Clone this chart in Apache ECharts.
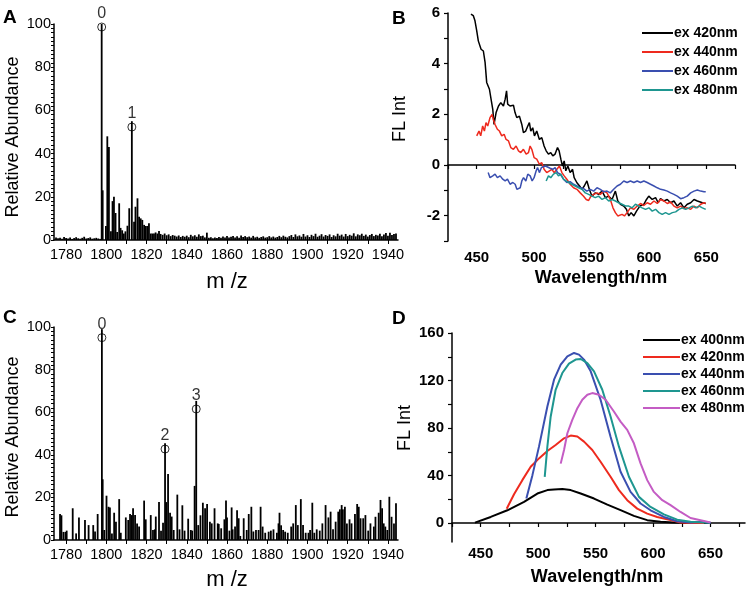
<!DOCTYPE html>
<html><head><meta charset="utf-8">
<script src="https://cdn.jsdelivr.net/npm/echarts@6/dist/echarts.min.js"></script>
<style>html,body{margin:0;padding:0;background:#fff}#c{width:750px;height:602px}</style>
</head><body><div id="c"></div>
<script>
// ---------- Panel A: mass spectrum ----------
const aSpec = [
[1775,1.2],[1776,0.8],[1777,1.0],[1778,0.6],[1779,1.4],[1780,0.9],[1781,0.7],[1782,1.1],[1783,0.5],[1784,0.9],
[1785,1.3],[1786,0.8],[1787,0.6],[1788,1.0],[1789,1.5],[1790,0.7],[1791,0.9],[1792,1.2],[1793,0.6],[1794,0.8],
[1795,1.0],[1796,0.7],[1797,0.5],
[1797.7,100],[1798.2,23],[1799.8,6.5],[1800.5,48],[1801.3,43],[1802.3,4],[1803.1,18],[1803.8,20],[1804.6,12.5],
[1805.4,3.7],[1806.4,17],[1807.1,5.6],[1807.9,4.5],[1808.7,3],[1809.5,4],[1810.5,6.6],[1811.4,14.7],[1812.7,55],
[1813.8,8.5],[1814.5,15.4],[1815.5,19.3],[1816.3,10.8],[1817.1,10],[1817.9,9.3],[1818.8,7],[1819.6,6.5],[1820.4,6.5],
[1821.2,7.7],[1822.1,3],[1822.9,3],[1823.7,3],[1824.5,3.5],[1825.4,3],[1826.2,4.2],[1827.0,2.8],
[1828,2.4],[1829,3.0],[1830,2.2],[1831,2.6],[1832,1.8],[1833,2.3],[1834,2.0],[1835,1.6],[1836,2.1],[1837,1.4],
[1838,1.9],[1839,1.5],[1840,2.0],[1841,1.3],[1842,2.4],[1843,1.7],[1844,2.2],[1845,1.5],[1846,2.6],[1847,1.8],
[1848,2.0],[1849,1.2],[1850,3.4],[1851,1.0],[1852,1.3],[1853,0.8],[1854,1.1],[1855,0.9],[1856,1.4],[1857,1.0],
[1858,1.6],[1859,1.2],[1860,1.8],[1861,1.1],[1862,1.5],[1863,1.9],[1864,1.2],[1865,1.7],[1866,1.0],[1867,2.1],
[1868,1.4],[1869,1.8],[1870,1.3],[1871,1.6],[1872,1.1],[1873,1.9],[1874,1.2],[1875,1.5],[1876,1.0],[1877,1.4],
[1878,1.7],[1879,1.1],[1880,1.3],[1881,1.8],[1882,1.2],[1883,1.6],[1884,1.1],[1885,1.4],[1886,1.9],[1887,1.3],
[1888,2.0],[1889,1.5],[1890,1.2],[1891,1.8],[1892,2.3],[1893,1.4],[1894,2.6],[1895,1.7],[1896,2.1],[1897,1.5],
[1898,2.8],[1899,1.6],[1900,2.2],[1901,1.4],[1902,2.4],[1903,1.8],[1904,2.9],[1905,1.5],[1906,2.0],[1907,2.7],
[1908,1.6],[1909,2.3],[1910,1.9],[1911,2.6],[1912,1.4],[1913,2.2],[1914,1.7],[1915,2.9],[1916,2.0],[1917,2.5],
[1918,1.6],[1919,2.8],[1920,1.8],[1921,2.4],[1922,2.0],[1923,3.1],[1924,1.7],[1925,2.6],[1926,2.2],[1927,2.9],
[1928,1.9],[1929,2.5],[1930,1.6],[1931,2.3],[1932,2.8],[1933,1.8],[1934,2.4],[1935,2.1],[1936,2.9],[1937,1.7],
[1938,2.6],[1939,3.2],[1940,2.0],[1941,3.4],[1942,2.3],[1943,2.8],[1944,3.0]
];
const aPeaks = [[1797.7,98.6],[1812.7,52.3]];
const aPeakLabels = ['0','1'];

// ---------- Panel C: mass spectrum ----------
const cSpec = [
[1777.0,12.2],[1777.7,11.6],[1778.7,3.8],[1779.7,3.8],[1780.3,4.4],[1783.3,14.9],[1785.0,3.1],[1786.4,10.6],[1789.4,9.4],
[1791.2,7],[1793.5,7],[1794.4,4],[1795.7,12.2],[1797.8,99],[1798.2,28.5],[1799.0,4.7],[1800.1,20.8],[1801.1,15.6],
[1801.8,15.3],[1802.8,3],[1803.9,12.8],[1804.8,8.6],[1806.4,19.2],[1807.2,3.4],[1809.7,10.6],[1810.9,9.4],[1811.8,12.2],
[1812.7,11.7],[1813.3,14.9],[1814.3,11.7],[1815.3,7.8],[1816.3,6.3],[1818.8,18.5],[1819.6,9.7],[1822.1,11.7],[1823.2,4.7],
[1824.1,5],[1824.6,11],[1826.2,17.8],[1827.2,4.4],[1828.2,8.1],[1829.2,45.4],[1829.8,17.8],[1830.7,31],[1831.7,12.8],
[1832.5,11],[1833.5,4.7],[1835.3,21.3],[1836.4,5],[1837.8,16.3],[1838.9,4.4],[1840.7,10],[1842.0,4.7],[1842.7,4.4],
[1843.9,25.4],[1844.7,65.3],[1845.7,7],[1846.8,11.6],[1848.0,17.5],[1849.1,14.9],[1850.1,16.9],[1851.5,8.6],[1852.4,7.8],
[1853.8,14.9],[1855.4,7.8],[1855.9,7.5],[1857.1,5.5],[1858.7,9.7],[1859.5,18.5],[1860.0,10.6],[1861.2,4.4],[1862.3,15.3],
[1862.8,5],[1864.0,6.3],[1865.0,14],[1865.8,10.2],[1866.6,1.9],[1868.3,10.2],[1869.8,4.7],[1870.8,12.2],[1872.1,15.6],
[1873.1,4],[1874.4,4.7],[1875.7,4.7],[1876.7,15.6],[1877.7,6.3],[1879.0,3.4],[1880.7,3.9],[1881.8,4.4],[1883.1,5],
[1884.8,3.4],[1885.6,7.8],[1886.1,12.8],[1886.9,6.9],[1887.9,4.7],[1888.9,3.9],[1890.2,3.4],[1891.9,6.3],[1892.9,7.8],
[1894.2,16.4],[1895.2,7],[1896.7,19.2],[1897.8,7],[1899.1,3.4],[1900.5,3.4],[1901.3,4.7],[1902.4,17.5],[1903.4,3.4],
[1904.6,5],[1906.1,4.4],[1907.4,7.8],[1909.0,16.4],[1910.4,10.6],[1911.5,13.3],[1912.7,5],[1914.0,8.6],[1915.3,13.3],
[1916.1,14.4],[1917.0,16.4],[1917.6,14.4],[1918.6,15.6],[1919.6,7.8],[1920.9,9.7],[1921.9,7.8],[1923.6,12.2],[1924.7,16.9],
[1925.5,15.6],[1926.4,10.2],[1927.7,10.2],[1928.8,11.7],[1930.2,4.4],[1931.3,7.8],[1933.0,6.3],[1933.8,10.9],[1935.4,12.8],
[1936.3,18.8],[1937.1,14.9],[1937.9,7.8],[1938.7,6.3],[1939.7,4.7],[1940.7,20.3],[1941.8,10.9],[1943.0,7.8],[1944.0,17.2]
];
const cPeaks = [[1797.8,95],[1829.2,42.7],[1844.7,61.5]];
const cPeakLabels = ['0','2','3'];

const msXLabels = [1780,1800,1820,1840,1860,1880,1900,1920,1940];
const msYLabels = [0,20,40,60,80,100];

// ---------- Panel B: FL spectra ----------
const bNames = ['ex 420nm','ex 440nm','ex 460nm','ex 480nm'];
const b420 = [[445,5.96],[447,5.9],[448.5,5.69],[450,5.3],[451.4,4.9],[453.8,4.57],[455.8,4.5],[457.3,4.05],[458.7,3.26],
[461.1,2.99],[462.5,2.6],[464,2.2],[465.1,1.6],[466.9,2.07],[469,2.33],[471,2.46],[473.3,2.33],[474.8,2.6],[476,2.93],
[477,2.4],[479,2.33],[482,2.36],[483.4,2.07],[484.9,1.87],[487.2,1.93],[489.3,1.6],[490.7,1.28],[492.7,1.34],[494.5,1.54],
[495.9,1.67],[497.1,1.34],[498.8,1.47],[500.3,1.15],[502.3,1.34],[504.6,1.01],[506.7,1.08],[508.7,0.75],[510.5,0.56],
[512.5,0.43],[514.5,0.49],[516.3,0.36],[518.3,0.43],[520.4,0.69],[521.8,0.56],[523.3,0.23],[524.7,-0.04],[526.2,0.16],
[527.6,-0.23],[529.4,-0.04],[531.4,-0.3],[533.5,-0.17],[534.9,-0.5],[537.3,-0.7],[539.6,-0.83],[541.7,-0.96],[543.7,-0.83],
[546,-0.63],[548.1,-0.96],[550.4,-1.23],[553.3,-1.1],[556.2,-1.16],[559.2,-1.03],[562.1,-1.29],[565,-1.23],[567.9,-1.36],
[570.8,-1.03],[572.9,-1.42],[575.2,-1.55],[578.1,-1.62],[580.4,-1.75],[582.5,-2.01],[584.5,-1.88],[586.9,-2.01],[589.2,-1.82],
[592.1,-1.62],[595.6,-1.55],[597.9,-1.36],[599.9,-1.23],[602.9,-1.36],[605.8,-1.29],[608.1,-1.49],[610.1,-1.33],[613,-1.42],
[616,-1.36],[618.9,-1.49],[621.8,-1.42],[624.7,-1.62],[627.6,-1.49],[630.5,-1.69],[633.4,-1.55],[636.4,-1.49],[639.3,-1.36],
[642.2,-1.42],[646.6,-1.49],[649.5,-1.52]];
const b440 = [[450,1.15],[452,1.34],[453.5,1.15],[455.2,1.54],[456.7,1.34],[458.1,1.67],[459.6,1.54],[461.6,1.87],[463.4,2.0],
[464.5,1.8],[466,1.6],[468,1.41],[469.8,1.34],[471.8,1.15],[473.9,1.21],[475.6,1.01],[477.7,0.95],[479.7,0.69],[482,0.62],
[484.3,0.75],[486.4,0.56],[488.4,0.49],[490.7,0.62],[493.1,0.43],[495.1,0.49],[496.5,0.75],[498,0.62],[500,0.29],[502.3,0.23],
[504.6,0.03],[506.7,0.09],[508.7,-0.17],[511,-0.3],[513.4,-0.23],[515.4,-0.17],[517.5,-0.3],[519.8,-0.17],[522.1,-0.04],
[524.2,-0.3],[526.2,-0.43],[528.5,-0.56],[531.4,-0.76],[534.4,-0.9],[537.3,-0.96],[540.2,-1.1],[543.1,-1.23],[545.4,-1.36],
[547.5,-1.4],[549.5,-1.23],[551.9,-1.16],[554.8,-1.1],[557.7,-1.16],[560.6,-1.03],[563.5,-1.1],[566.4,-1.36],[568.7,-1.69],
[570.8,-1.88],[572.9,-2.01],[574.6,-2.08],[576.6,-1.95],[578.7,-2.01],[581,-1.88],[583.9,-1.69],[586.9,-1.75],[589.8,-1.62],
[592.7,-1.52],[595.6,-1.6],[598.5,-1.49],[601.4,-1.55],[604.4,-1.42],[607.3,-1.52],[610.2,-1.36],[613.1,-1.42],[616,-1.52],
[618.9,-1.46],[621.8,-1.62],[624.7,-1.69],[627.6,-1.62],[630.5,-1.72],[633.4,-1.69],[636.4,-1.75],[639.3,-1.62],[642.2,-1.69],
[645.1,-1.55],[648,-1.49],[649.5,-1.52]];
const b460 = [[460,-0.3],[461.6,-0.5],[464,-0.43],[466,-0.36],[468,-0.5],[470.4,-0.43],[472.7,-0.56],[474.8,-0.63],[476.8,-0.56],
[479.1,-0.76],[481.5,-0.69],[483.5,-0.76],[485,-0.96],[486.4,-1.03],[487.9,-0.9],[489.3,-0.63],[490.8,-0.5],[492.8,-0.63],
[494.5,-0.36],[496.6,-0.43],[498.3,-0.63],[500,-0.5],[501.8,-0.23],[503,-0.1],[504.6,-0.3],[506.4,-0.1],[508.1,-0.17],
[509.9,-0.04],[511.6,-0.1],[514,-0.13],[516.3,-0.17],[518.3,-0.1],[520.4,-0.3],[522.7,-0.36],[525.6,-0.56],[528.5,-0.69],
[531.4,-0.66],[534.4,-0.76],[537.3,-0.83],[540.2,-0.9],[543.1,-0.93],[546,-1.03],[548.9,-0.96],[551.9,-1.03],[554.8,-0.9],
[557.7,-0.96],[560.6,-1.06],[563.5,-1.03],[566.4,-1.1],[569.3,-0.96],[572.3,-0.83],[575.2,-0.76],[578.1,-0.63],[581,-0.69],
[583.9,-0.63],[586.9,-0.69],[589.8,-0.63],[592.7,-0.69],[595.6,-0.63],[598.5,-0.69],[601.4,-0.76],[604.4,-0.83],[607.3,-0.9],
[610.2,-0.96],[613.1,-0.99],[616,-1.03],[618.9,-1.1],[621.8,-1.16],[624.7,-1.23],[627.6,-1.33],[630.5,-1.29],[633.4,-1.23],
[636.4,-1.1],[639.3,-1.03],[642.2,-0.99],[645.1,-1.03],[648,-1.06],[649.5,-1.06]];
const b480 = [[510.5,-0.63],[512.5,-0.43],[514.5,-0.5],[516.9,-0.36],[519.2,-0.3],[521.2,-0.43],[523.3,-0.36],[525.6,-0.56],
[527.9,-0.63],[530,-0.69],[532.9,-0.76],[535.8,-0.83],[538.7,-0.9],[541.7,-0.96],[544.6,-1.1],[547.5,-1.16],[550.4,-1.23],
[553.3,-1.29],[556.2,-1.23],[559.2,-1.36],[562.1,-1.29],[565,-1.42],[567.9,-1.36],[570.8,-1.42],[573.7,-1.49],[576.6,-1.55],
[579.6,-1.62],[582.5,-1.62],[585.4,-1.69],[588.3,-1.55],[591.2,-1.62],[594.1,-1.69],[597.1,-1.75],[600,-1.69],[602.9,-1.82],
[605.8,-1.75],[608.7,-1.88],[611.6,-1.95],[614.5,-1.88],[617.5,-1.95],[620.4,-1.88],[623.3,-1.85],[626.2,-1.75],[629.1,-1.69],
[632,-1.75],[635,-1.69],[637.9,-1.62],[640.8,-1.69],[643.7,-1.62],[646.6,-1.69],[649.5,-1.75]];
const bXLabels = [450,500,550,600,650];
const bYLabels = [-2,0,2,4,6];

// ---------- Panel D: FL spectra ----------
const dNames = ['ex 400nm','ex 420nm','ex 440nm','ex 460nm','ex 480nm'];
const d400 = [[445,0.3],[458.7,5.1],[473.2,10.7],[487.7,17.8],[499.3,24.8],[508,27.7],[513.8,28.3],[521,28.6],[528.3,27.7],
[537,24.8],[548.6,20.6],[560.2,15.5],[571.7,10.8],[583.3,6.0],[594.9,2.4],[606.5,1.0],[618.1,0.4],[629.7,0.2],[641.3,0.2],[650,0]];
const d420 = [[472.6,12],[479,24.2],[486.2,36.1],[493.5,47.4],[500.7,54.4],[508,60.6],[515.2,65.7],[522.5,71.3],[528.3,73.6],
[534.1,72.8],[539.9,68.5],[547.1,61.5],[554.3,51.6],[563,38.9],[570.3,27.7],[577.5,19.2],[586.2,12.1],[594.9,7.9],[603.6,5.1],
[615.2,2.4],[623.9,0.4],[632.6,0],[644.2,0]];
const d440 = [[489.7,20.6],[495,40.3],[500.7,64.3],[508,98.1],[513.8,120.7],[519.6,133.4],[525.4,140.4],[531.2,143.2],[535.5,141.8],
[539.9,137.6],[545.7,127.7],[554.3,103.8],[563,72.7],[571.7,43.1],[580.4,26.2],[589.1,16.4],[597.8,10.7],[609.4,5.1],[621,1.5],
[632.6,0.4],[644.2,1.0],[650,0]];
const d460 = [[505.7,38.9],[508,64.3],[510.9,89.7],[515.2,112.2],[521,126.3],[526.8,134.2],[532.6,137.6],[537,138.1],[542.8,134.7],
[548.6,127.7],[555.8,112.2],[563,89.7],[570.3,64.3],[579,38.9],[587.7,22],[597.8,13.5],[609.4,7.3],[621,2.8],[632.6,1],[644.2,0.4],[650,0.2]];
const d480 = [[519.6,50],[522.5,61.5],[525.4,75.6],[529.7,86.8],[534.1,96.7],[538.4,103.8],[542.8,108],[547.1,109.4],[552.9,108],
[558.7,103.8],[565.9,93.9],[571.7,85.4],[577.5,78.4],[583.3,67.1],[589.1,50.2],[594.9,36.1],[600.7,26.2],[608,19.2],[615.2,15],
[623.9,9.3],[632.6,4.2],[641.3,2.3],[650,0.4]];
const dXLabels = [450,500,550,600,650];
const dYLabels = [0,40,80,120,160];

// ---------- styling ----------
const ARIAL = "'Liberation Sans',Arial,sans-serif";
const bColors = ['#000000','#ee2a1e','#3a4fb0','#1e9690'];
const dColors = ['#000000','#ee2a1e','#3a4fb0','#1e9690','#c45cc4'];

function range(a,b,s){const r=[];for(let v=a;v<=b+1e-9;v+=s)r.push(+v.toFixed(4));return r;}
const plain = v => String(v);

function msX(grid){return {gridIndex:grid,type:'value',min:1774,max:1945,
  axisLine:{lineStyle:{color:'#000',width:1.5}},
  axisTick:{customValues:range(1780,1940,10),length:4,lineStyle:{color:'#000',width:1}},
  axisLabel:{customValues:msXLabels,formatter:plain,showMinLabel:true,showMaxLabel:true,hideOverlap:false,
    color:'#000',fontSize:14.5,fontFamily:ARIAL,margin:7},
  splitLine:{show:false}};}
function msY(grid){return {gridIndex:grid,type:'value',min:0,max:100,
  axisLine:{show:true,lineStyle:{color:'#000',width:1.5}},
  axisTick:{show:true,customValues:range(0,100,2),length:3,lineStyle:{color:'#000',width:1}},
  axisLabel:{customValues:msYLabels,formatter:plain,showMinLabel:true,showMaxLabel:true,hideOverlap:false,
    color:'#000',fontSize:14.5,fontFamily:ARIAL,margin:3},
  splitLine:{show:false}};}
function flX(grid,min,max,labels,margin){return {gridIndex:grid,type:'value',min:min,max:max,
  axisLine:{lineStyle:{color:'#000',width:1.5}},
  axisTick:{customValues:range(425,675,25),length:4,lineStyle:{color:'#000',width:1.2}},
  axisLabel:{customValues:labels,formatter:plain,showMinLabel:true,showMaxLabel:true,hideOverlap:false,
    color:'#000',fontSize:15,fontWeight:'bold',fontFamily:ARIAL,margin:margin},
  splitLine:{show:false}};}
function flY(grid,min,max,labels,ticks){return {gridIndex:grid,type:'value',min:min,max:max,
  axisLine:{show:true,lineStyle:{color:'#000',width:1.5}},
  axisTick:{show:true,customValues:ticks,length:4,lineStyle:{color:'#000',width:1.2}},
  axisLabel:{customValues:labels,formatter:plain,showMinLabel:true,showMaxLabel:true,hideOverlap:false,
    color:'#000',fontSize:15,fontWeight:'bold',fontFamily:ARIAL,margin:8},
  splitLine:{show:false}};}

function specSeries(data,xi){return {type:'bar',xAxisIndex:xi,yAxisIndex:xi,data:data,barWidth:1.8,
  itemStyle:{color:'#000'},silent:true,animation:false};}
function peakSeries(data,labels,xi){return {type:'scatter',xAxisIndex:xi,yAxisIndex:xi,data:data,symbol:'circle',symbolSize:8,z:5,
  itemStyle:{color:'rgba(0,0,0,0)',borderColor:'#000',borderWidth:1},
  label:{show:true,position:'top',distance:1,color:'#000',fontSize:16,fontFamily:ARIAL,
    formatter:p=>labels[p.dataIndex]},animation:false};}
function lineSeries(name,data,color,xi,w){return {type:'line',name:name,xAxisIndex:xi,yAxisIndex:xi,data:data,
  symbol:'none',lineStyle:{color:color,width:w},itemStyle:{color:color},animation:false};}

const series = [
  specSeries(aSpec,0), peakSeries(aPeaks,aPeakLabels,0),
  specSeries(cSpec,2), peakSeries(cPeaks,cPeakLabels,2),
  lineSeries('B|'+bNames[0],b420,bColors[0],1,1.5),
  lineSeries('B|'+bNames[1],b440,bColors[1],1,1.5),
  lineSeries('B|'+bNames[2],b460,bColors[2],1,1.5),
  lineSeries('B|'+bNames[3],b480,bColors[3],1,1.5),
  lineSeries('D|'+dNames[0],d400,dColors[0],3,2),
  lineSeries('D|'+dNames[1],d420,dColors[1],3,2),
  lineSeries('D|'+dNames[2],d440,dColors[2],3,2),
  lineSeries('D|'+dNames[3],d460,dColors[3],3,2),
  lineSeries('D|'+dNames[4],d480,dColors[4],3,2)
];

function txt(t,x,y,size,opts){return Object.assign({type:'text',x:x,y:y,style:{text:t,fill:'#000',
  font:(opts&&opts.weight?opts.weight+' ':'')+size+'px '+ARIAL,
  align:(opts&&opts.align)||'center',verticalAlign:'middle'}},opts&&opts.rot?{rotation:opts.rot}:{});}

function legendCfg(names,prefix,left,top,w,gap){return {data:names.map(n=>prefix+n),left:left,top:top,orient:'vertical',
  icon:'rect',itemWidth:w,itemHeight:2,itemGap:gap,padding:0,
  formatter:n=>n.split('|')[1],textStyle:{fontSize:14,fontWeight:'bold',fontFamily:ARIAL,color:'#000',padding:[0,0,0,-4]}};}

const option = {
  backgroundColor:'#fff',
  animation:false,
  grid:[
    {left:54,top:24,width:344,height:216},
    {left:448,top:13,width:287,height:228},
    {left:54,top:327,width:344,height:213},
    {left:452,top:333,width:293,height:209}
  ],
  xAxis:[msX(0), flX(1,425,675,bXLabels,9), msX(2), flX(3,425,680,dXLabels,4)],
  yAxis:[msY(0), flY(1,-3,6,bYLabels,range(-3,6,1)), msY(2), flY(3,-16,160,dYLabels,range(0,160,20))],
  legend:[
    legendCfg(bNames,'B|',642,26,31,5),
    legendCfg(dNames,'D|',643,333,37,3)
  ],
  graphic:[
    txt('A',3,18,19,{weight:'bold',align:'left'}),
    txt('B',392,19,19,{weight:'bold',align:'left'}),
    txt('C',3,318,19,{weight:'bold',align:'left'}),
    txt('D',392,319,19,{weight:'bold',align:'left'}),
    txt('Relative Abundance',13,137,18,{rot:Math.PI/2}),
    txt('Relative Abundance',13,437,18,{rot:Math.PI/2}),
    txt('m /z',227,282,22,{}),
    txt('m /z',227,580,22,{}),
    txt('FL Int',400,119,18,{rot:Math.PI/2}),
    txt('FL Int',405,428,18,{rot:Math.PI/2}),
    txt('Wavelength/nm',601,278,18,{weight:'bold'}),
    txt('Wavelength/nm',597,577,18,{weight:'bold'})
  ],
  series:series
};
const chart = echarts.init(document.getElementById('c'),null,{renderer:'canvas'});
chart.setOption(option);
</script>
</body></html>
